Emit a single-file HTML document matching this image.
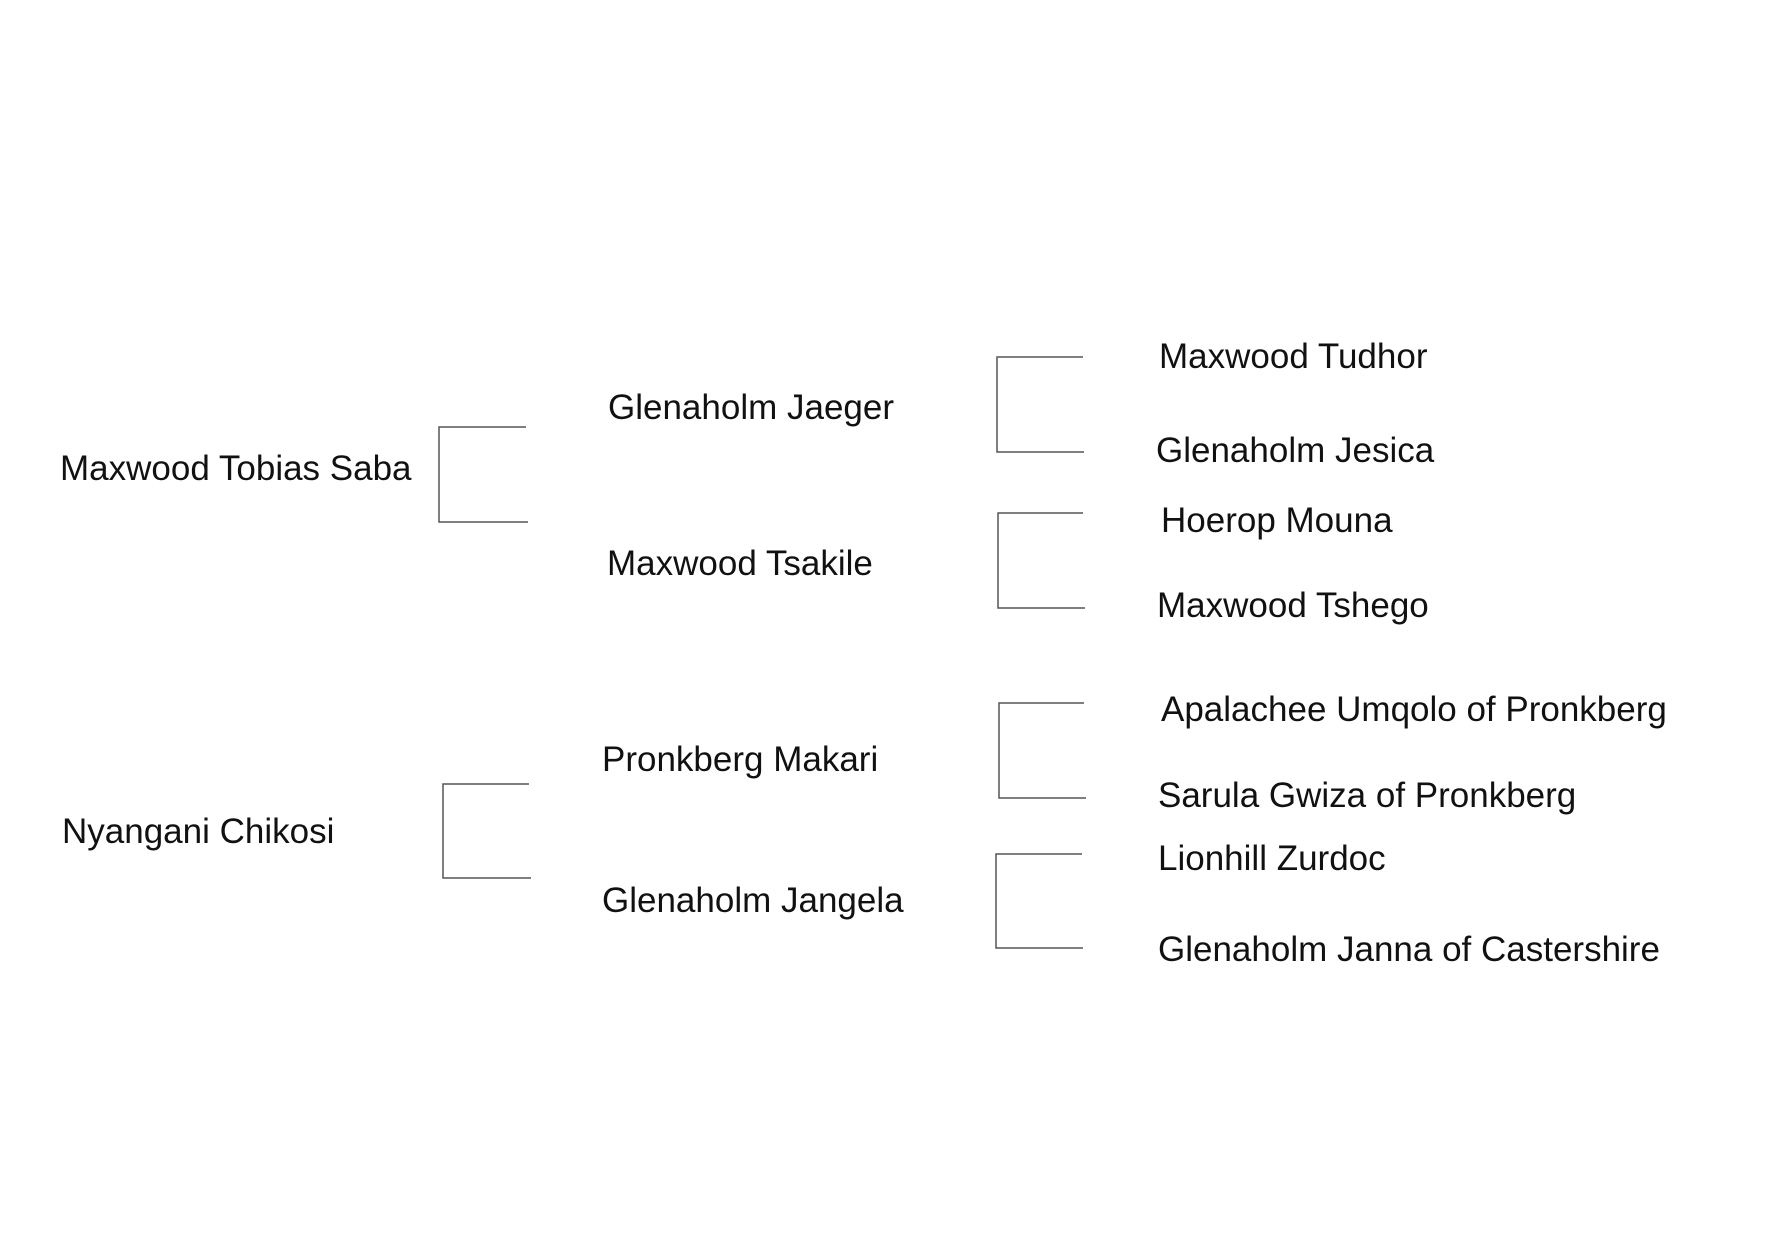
<!DOCTYPE html>
<html><head><meta charset="utf-8"><style>
body{margin:0;width:1771px;height:1240px;background:#fff;position:relative;overflow:hidden;font-family:"Liberation Sans",Arial,sans-serif;}
.t{position:absolute;font-size:35px;line-height:35px;color:#111;white-space:nowrap;}
svg{position:absolute;left:0;top:0}
</style></head><body>
<svg width="1771" height="1240">
<g fill="none" stroke="#555" stroke-width="1.5">
<path d="M526 427H439V522H528"/>
<path d="M529 784H443V878H531"/>
<path d="M1083 357H997V452H1084"/>
<path d="M1083 513H998V608H1085"/>
<path d="M1084 703H999V798H1086"/>
<path d="M1082 854H996V948H1083"/>
</g></svg>
<div class="t" style="left:60px;top:451px">Maxwood Tobias Saba</div>
<div class="t" style="left:608px;top:390px">Glenaholm Jaeger</div>
<div class="t" style="left:607px;top:546px">Maxwood Tsakile</div>
<div class="t" style="left:62px;top:814px">Nyangani Chikosi</div>
<div class="t" style="left:602px;top:742px">Pronkberg Makari</div>
<div class="t" style="left:602px;top:883px">Glenaholm Jangela</div>
<div class="t" style="left:1159px;top:339px">Maxwood Tudhor</div>
<div class="t" style="left:1156px;top:433px">Glenaholm Jesica</div>
<div class="t" style="left:1161px;top:503px">Hoerop Mouna</div>
<div class="t" style="left:1157px;top:588px">Maxwood Tshego</div>
<div class="t" style="left:1161px;top:692px">Apalachee Umqolo of Pronkberg</div>
<div class="t" style="left:1158px;top:778px">Sarula Gwiza of Pronkberg</div>
<div class="t" style="left:1158px;top:841px">Lionhill Zurdoc</div>
<div class="t" style="left:1158px;top:932px">Glenaholm Janna of Castershire</div>
</body></html>
